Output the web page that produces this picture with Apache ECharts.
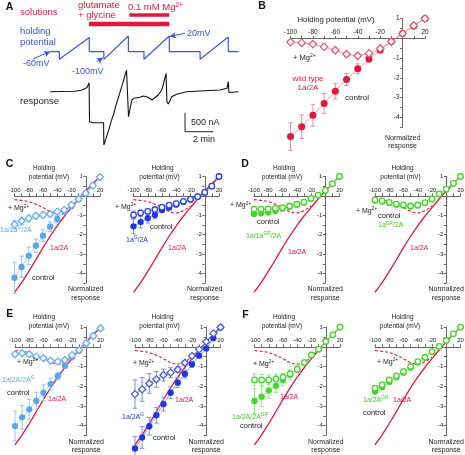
<!DOCTYPE html>
<html><head><meta charset="utf-8">
<script src="https://cdn.jsdelivr.net/npm/echarts@6/dist/echarts.min.js"></script>
<style>html,body{margin:0;padding:0;background:#fff}#c{width:465px;height:455px}</style>
</head><body><div id="c"></div>
<script>
// ================= DATA =================
// Panel A: time in min, holding potential in mV, response in nA
const vTime = [0,0.66,0.66,2.77,2.77,3.8,3.8,5.53,5.53,6.63,6.63,8.42,8.42,10.59,10.59,12.58,12.58,13.3];
const vHold = [-60,-60,-100,12,-60,-60,-100,20,-60,-60,-100,20,-60,-60,-100,15,-60,-60];
const rTime = [0,1.76,2.26,2.61,2.76,2.79,3.03,3.78,3.8,3.93,3.93,4.07,4.07,4.2,4.2,4.33,4.33,4.47,4.47,4.6,4.6,4.73,4.73,4.86,4.86,5.0,5.0,5.13,5.13,5.26,5.26,5.4,5.4,5.52,5.54,5.77,5.93,6.35,6.58,6.92,7.2,7.64,7.88,7.97,7.97,8.05,8.05,8.12,8.12,8.19,8.19,8.24,8.25,8.35,8.59,8.94,9.65,10.59,12.0,12.49,12.58,12.63,13.3];
const rCurrent = [0,11,45,110,237,-789,-815,-815,-1402,-1402,-1253,-1253,-1095,-1095,-937,-937,-762,-762,-613,-613,-438,-438,-263,-263,-114,-114,61,61,219,219,394,394,570,570,-657,-218,-174,-147,-113,-147,-218,-87,45,45,150,150,270,270,380,380,484,484,-263,-324,-131,-68,0,18,45,89,263,-21,0];
const solLanes = ['glu','mg'];
const gluTime = [2.75, 8.42];
const mgTime = [5.6, 8.42];
const sbTime = [9.53, 9.53, 11.53];
const sbCurrent = [-552, -1052, -1052];
const arrowFrom = [[-1.2,-98],[3.3,-113],[9.53,34]];
const arrowTo = [[0,-61],[3.72,-92],[8.47,18]];

// I-V panels: holding potential (mV) and normalized response
const mV = [-100,-90,-80,-70,-60,-50,-40,-30,-20,-10,0,10,20];
const wtControl    = [-4.97,-4.47,-3.89,-3.29,-2.67,-2.08,-1.54,-1.05,-0.6,-0.16,0.25,0.63,1.0];
const wtControlErr = [0.7,0.6,0.55,0.5,0.4,0.3,0.25,0.15,0.1,0.05,0.03,0.03,0];
const wtMg         = [-0.19,-0.23,-0.29,-0.43,-0.6,-0.8,-0.88,-0.76,-0.51,-0.16,0.25,0.65,1.0];
const wtMgErr      = [0.05,0.05,0.05,0.06,0.07,0.08,0.1,0.1,0.08,0.05,0.03,0.03,0];

const c1Control    = [-4.22,-3.66,-3.09,-2.57,-2.05,-1.59,-1.19,-0.81,-0.52,-0.17,0.14,0.53,0.97];
const c1ControlErr = [0.8,0.55,0.45,0.35,0.3,0.25,0.2,0.15,0.1,0.05,0.03,0.03,0];
const c1Mg         = [-1.47,-1.29,-1.16,-1.03,-0.98,-0.93,-0.81,-0.72,-0.47,-0.16,0.14,0.53,0.97];
const c1MgErr      = [0.2,0.2,0.18,0.15,0.15,0.12,0.1,0.08,0.05,0.03,0.02,0.02,0];

const c2Control    = [-1.57,-1.35,-1.15,-0.98,-0.73,-0.6,-0.45,-0.31,-0.19,-0.04,0.18,0.5,1.0];
const c2ControlErr = [0.38,0.3,0.25,0.2,0.12,0.1,0.08,0.05,0.04,0.03,0.02,0.02,0];
const c2Mg         = [-0.98,-0.88,-0.8,-0.7,-0.58,-0.48,-0.4,-0.28,-0.17,-0.04,0.18,0.5,1.0];
const c2MgErr      = [0.2,0.15,0.12,0.1,0.08,0.06,0.05,0.04,0.03,0.02,0.02,0.02,0];

const d1Control    = [-0.93,-0.9,-0.86,-0.78,-0.66,-0.56,-0.45,-0.34,-0.15,0.03,0.28,0.62,1.0];
const d1ControlErr = [0.08,0.08,0.07,0.06,0.05,0.05,0.04,0.03,0.03,0.02,0.02,0.02,0];
const d1Mg         = [-0.68,-0.68,-0.67,-0.64,-0.6,-0.52,-0.43,-0.32,-0.13,0.04,0.28,0.62,1.0];
const d1MgErr      = [0.06,0.06,0.05,0.05,0.05,0.04,0.04,0.03,0.03,0.02,0.02,0.02,0];

const d2Control    = [-0.24,-0.29,-0.36,-0.45,-0.5,-0.54,-0.49,-0.37,-0.17,0.09,0.34,0.65,1.0];
const d2ControlErr = [0.05,0.05,0.05,0.05,0.05,0.05,0.04,0.03,0.03,0.02,0.02,0.02,0];
const d2Mg         = [-0.21,-0.26,-0.33,-0.42,-0.47,-0.52,-0.47,-0.35,-0.16,0.1,0.35,0.65,1.0];
const d2MgErr      = [0.05,0.05,0.05,0.05,0.05,0.05,0.04,0.03,0.03,0.02,0.02,0.02,0];

const e1Control    = [-4.02,-3.58,-3.17,-2.75,-2.33,-1.89,-1.49,-0.97,-0.53,-0.2,0.18,0.55,0.94];
const e1ControlErr = [0.76,0.6,0.5,0.45,0.4,0.3,0.2,0.1,0.05,0.03,0.02,0.02,0];
const e1Mg         = [-0.38,-0.33,-0.38,-0.5,-0.58,-0.7,-0.75,-0.67,-0.42,-0.16,0.18,0.55,0.94];
const e1MgErr      = [0.08,0.08,0.08,0.08,0.08,0.08,0.08,0.06,0.05,0.03,0.02,0.02,0];

const e2Control    = [-5.16,-4.6,-4.03,-3.47,-2.91,-2.33,-1.82,-1.38,-0.89,-0.45,-0.08,0.43,0.99];
const e2ControlErr = [0.6,0.55,0.45,0.4,0.35,0.3,0.25,0.2,0.15,0.1,0.05,0.03,0];
const e2Mg         = [-2.4,-2.16,-1.86,-1.65,-1.43,-1.31,-1.15,-0.81,-0.47,-0.13,0.26,0.68,0.99];
const e2MgErr      = [0.72,0.6,0.5,0.4,0.3,0.25,0.15,0.1,0.05,0.03,0.02,0.02,0];

const f1Control    = [-2.75,-2.53,-2.22,-1.98,-1.68,-1.42,-1.14,-0.8,-0.41,-0.12,0.27,0.61,1.0];
const f1ControlErr = [0.64,0.5,0.4,0.35,0.3,0.25,0.2,0.1,0.05,0.03,0.02,0.02,0];
const f1Mg         = [-1.68,-1.68,-1.68,-1.63,-1.54,-1.37,-1.14,-0.8,-0.41,-0.12,0.27,0.61,1.0];
const f1MgErr      = [0.3,0.28,0.25,0.22,0.2,0.15,0.1,0.05,0.04,0.03,0.02,0.02,0];

const f2Control    = [-2.27,-2.05,-1.78,-1.55,-1.32,-1.06,-0.8,-0.56,-0.26,0.01,0.32,0.66,1.0];
const f2ControlErr = [0.1,0.08,0.07,0.06,0.05,0.05,0.04,0.03,0.03,0.02,0.02,0.02,0];
const f2Mg         = [-2.1,-1.93,-1.68,-1.47,-1.25,-1.0,-0.75,-0.53,-0.24,0.02,0.32,0.66,1.0];
const f2MgErr      = [0.08,0.07,0.06,0.05,0.05,0.04,0.04,0.03,0.03,0.02,0.02,0.02,0];

// ================= STYLE =================
const FONT = '"Liberation Sans", Arial, Helvetica, sans-serif';
const RED = '#e3173d', BLUE = '#3c55d8', LBLUE = '#5aa6ee', DBLUE = '#1d36e0', GREEN = '#3fd92a', GREENTXT = '#3fcf25';
const AX = '#666';
const Y_MIN = -4.5, Y_MAX = 1, X_MIN = -100, X_MAX = 20;

const pairs = (xs, ys) => xs.map((x, i) => [x, ys[i]]);

const grids = [], xAxes = [], yAxes = [], series = [];

// ---------- Panel A ----------
const aLeft = 7.5, aWidth = 233.8;
function hiddenX(gi){ return {gridIndex:gi, type:'value', min:-3, max:13.5, show:false}; }
grids.push({left:aLeft, top:10.5, width:aWidth, height:18, outerBoundsMode:'none'});
xAxes.push(hiddenX(0));
yAxes.push({gridIndex:0, type:'category', data:solLanes, show:false});
series.push({type:'line', xAxisIndex:0, yAxisIndex:0, data:gluTime.map(t=>[t,'glu']), symbol:'none', silent:true, lineStyle:{color:RED, width:4.5, cap:'butt'}});
series.push({type:'line', xAxisIndex:0, yAxisIndex:0, data:mgTime.map(t=>[t,'mg']), symbol:'none', silent:true, lineStyle:{color:RED, width:3.5, cap:'butt'}});
grids.push({left:aLeft, top:32.1, width:aWidth, height:31.1, outerBoundsMode:'none'});
xAxes.push(hiddenX(1));
yAxes.push({gridIndex:1, type:'value', min:-120, max:40, show:false});
series.push({type:'line', xAxisIndex:1, yAxisIndex:1, data:pairs(vTime, vHold), symbol:'none', silent:true, clip:false,
  lineStyle:{color:BLUE, width:1.2},
  markLine:{silent:true, symbol:['none','arrow'], symbolSize:[5,6], label:{show:false},
    lineStyle:{color:BLUE, width:1, type:'solid'},
    data: arrowFrom.map((f,i)=>[{coord:f},{coord:arrowTo[i]}])}});
grids.push({left:aLeft, top:65.1, width:aWidth, height:83.65, outerBoundsMode:'none'});
xAxes.push(hiddenX(2));
yAxes.push({gridIndex:2, type:'value', min:-1500, max:700, show:false});
series.push({type:'line', xAxisIndex:2, yAxisIndex:2, data:pairs(rTime, rCurrent), symbol:'none', silent:true, clip:false,
  lineStyle:{color:'#111', width:1.1}});
series.push({type:'line', xAxisIndex:2, yAxisIndex:2, data:pairs(sbTime, sbCurrent), symbol:'none', silent:true,
  lineStyle:{color:'#222', width:1}});

// ---------- I-V panels ----------
const panels = [
  {left:290.5, top:18.6, width:134.5, height:108.7, fs:6.5, ref:false,
   ctrl:wtControl, ctrlErr:wtControlErr, mg:wtMg, mgErr:wtMgErr,
   col:RED, line:'#ee7d90', err:'#ee8fa0', open:'#e25a72', openSym:'diamond', size:7, osize:7.5},
  {left:14.5, top:176.5, width:85.5, height:106.7, fs:6, ref:true,
   ctrl:c1Control, ctrlErr:c1ControlErr, mg:c1Mg, mgErr:c1MgErr,
   col:LBLUE, line:'#8fc3f2', err:'#92c5f2', open:'#6aaef0', openSym:'diamond', size:6.3, osize:7},
  {left:133.5, top:176.5, width:85.5, height:106.7, fs:6, ref:true,
   ctrl:c2Control, ctrlErr:c2ControlErr, mg:c2Mg, mgErr:c2MgErr,
   col:DBLUE, line:'#6f80e8', err:'#7d8de8', open:'#2a45e0', openSym:'circle', size:6.3, osize:5.5},
  {left:254, top:176.5, width:85.5, height:106.7, fs:6, ref:true,
   ctrl:d1Control, ctrlErr:d1ControlErr, mg:d1Mg, mgErr:d1MgErr,
   col:GREEN, line:'#8fe67d', err:'#9be88a', open:'#44d62c', openSym:'circle', size:6.3, osize:5.5},
  {left:375, top:176.5, width:85.5, height:106.7, fs:6, ref:true,
   ctrl:d2Control, ctrlErr:d2ControlErr, mg:d2Mg, mgErr:d2MgErr,
   col:GREEN, line:'#8fe67d', err:'#9be88a', open:'#44d62c', openSym:'circle', size:6.3, osize:5.5},
  {left:15, top:327.1, width:85.5, height:108.4, fs:6, ref:true,
   ctrl:e1Control, ctrlErr:e1ControlErr, mg:e1Mg, mgErr:e1MgErr,
   col:LBLUE, line:'#8fc3f2', err:'#92c5f2', open:'#6aaef0', openSym:'diamond', size:6.3, osize:7},
  {left:135, top:327.1, width:85.5, height:108.4, fs:6, ref:true,
   ctrl:e2Control, ctrlErr:e2ControlErr, mg:e2Mg, mgErr:e2MgErr,
   col:DBLUE, line:'#6f80e8', err:'#7d8de8', open:'#4a5ad8', openSym:'diamond', size:6.3, osize:7},
  {left:254.5, top:327.1, width:85.5, height:108.4, fs:6, ref:true,
   ctrl:f1Control, ctrlErr:f1ControlErr, mg:f1Mg, mgErr:f1MgErr,
   col:GREEN, line:'#8fe67d', err:'#9be88a', open:'#44d62c', openSym:'circle', size:6.3, osize:5.5},
  {left:375, top:327.1, width:85.5, height:108.4, fs:6, ref:true,
   ctrl:f2Control, ctrlErr:f2ControlErr, mg:f2Mg, mgErr:f2MgErr,
   col:GREEN, line:'#8fe67d', err:'#9be88a', open:'#44d62c', openSym:'circle', size:6.3, osize:5.5}
];

function errSeries(gi, vals, errs, color){
  const data = [];
  mV.forEach((x,j)=>{ if (errs[j] > 0.04) data.push([x, vals[j]-errs[j], vals[j]+errs[j]]); });
  return {type:'custom', xAxisIndex:gi, yAxisIndex:gi, data, encode:{x:0, y:[1,2]}, silent:true, z:3, clip:false,
    renderItem:(params, api)=>{
      const x = api.value(0);
      const a = api.coord([x, api.value(1)]), b = api.coord([x, api.value(2)]);
      const w = 2.3, st = {stroke:color, lineWidth:1};
      return {type:'group', children:[
        {type:'line', shape:{x1:a[0], y1:a[1], x2:b[0], y2:b[1]}, style:st},
        {type:'line', shape:{x1:a[0]-w, y1:a[1], x2:a[0]+w, y2:a[1]}, style:st},
        {type:'line', shape:{x1:b[0]-w, y1:b[1], x2:b[0]+w, y2:b[1]}, style:st}
      ]};
    }};
}

panels.forEach((p, k)=>{
  const gi = 3 + k;
  // axes cross at zero: shift each axis from the grid edge to the zero line of the other axis
  const xOff = -p.height * (Y_MAX - 0) / (Y_MAX - Y_MIN);
  const yOff = -p.width * (0 - X_MIN) / (X_MAX - X_MIN);
  grids.push({left:p.left, top:p.top, width:p.width, height:p.height, outerBoundsMode:'none'});
  xAxes.push({gridIndex:gi, type:'value', min:X_MIN, max:X_MAX, interval:10, position:'top', offset:xOff,
    axisLine:{onZero:false, lineStyle:{color:AX, width:1}},
    axisTick:{show:true, length:2.5, lineStyle:{color:AX}},
    axisLabel:{fontSize:p.fs, color:'#222', margin:3, fontFamily:FONT,
      formatter:v=> (v % 20 === 0 && v !== 0) ? String(v) : ''},
    splitLine:{show:false}});
  yAxes.push({gridIndex:gi, type:'value', min:Y_MIN, max:Y_MAX, interval:0.5, position:'left', offset:yOff,
    axisLine:{onZero:false, lineStyle:{color:AX, width:1}},
    axisTick:{show:true, length:2.5, lineStyle:{color:AX}},
    axisLabel:{fontSize:p.fs, color:'#222', margin:3, fontFamily:FONT,
      formatter:v=>{ const r = Math.round(v); return (Math.abs(v-r) < 1e-6 && r !== 0) ? String(r) : ''; }},
    splitLine:{show:false},
    name:'Normalized\nresponse', nameLocation:'start', nameGap: k===0 ? 6 : 2,
    nameTextStyle:{fontSize:7, color:'#222', lineHeight:8.7, fontFamily:FONT, align:'center', verticalAlign:'top'}});
  if (p.ref){
    series.push({type:'line', xAxisIndex:gi, yAxisIndex:gi, data:pairs(mV, wtControl), smooth:0.3, symbol:'none',
      silent:true, clip:false, z:2, lineStyle:{color:RED, width:1.3}});
    series.push({type:'line', xAxisIndex:gi, yAxisIndex:gi, data:pairs(mV.slice(0,9), wtMg.slice(0,9)), smooth:0.4, symbol:'none',
      silent:true, clip:false, z:2, lineStyle:{color:RED, width:1.1, type:[3,2]}});
  }
  series.push(errSeries(gi, p.ctrl, p.ctrlErr, p.err));
  series.push({type:'line', xAxisIndex:gi, yAxisIndex:gi, data:pairs(mV, p.ctrl), symbol:'circle', symbolSize:p.size,
    silent:true, clip:false, z:4, itemStyle:{color:p.col}, lineStyle:{color:p.line, width:0.8}});
  series.push(errSeries(gi, p.mg, p.mgErr, p.err));
  series.push({type:'line', xAxisIndex:gi, yAxisIndex:gi, data:pairs(mV, p.mg), symbol:p.openSym,
    symbolSize:p.osize,
    silent:true, clip:false, z:5, itemStyle:{color:'#fff', borderColor:p.open, borderWidth:1.3},
    lineStyle:{color:p.line, width:0.8}});
});

// ---------- Text ----------
function txt(x, y, text, o){
  o = o || {};
  const fill = o.fill || '#222', size = o.size || 7;
  return {type:'text', x, y, silent:true, z:100,
    style:{text, fill, fontSize:size, fontFamily:FONT, fontWeight:o.bold?'bold':'normal',
      align:o.align||'left', verticalAlign:'middle', textAlign:o.align||'left', textVerticalAlign:'middle',
      rich:{s:{fontSize:size*0.68, fill, fontFamily:FONT, padding:[0,0,size*0.55,0]}}}};
}
const hp = (cx1, cx2, y) => [txt(cx1, y, 'Holding', {size:6.5, align:'center'}), txt(cx2, y+8.8, 'potential (mV)', {size:6.5, align:'center'})];
const L = () => ({bold:true, size:10.5, align:'center', fill:'#111'});
const texts = [
  // A
  txt(9.5, 7, 'A', L()),
  txt(20, 12.7, 'solutions', {fill:RED, size:9.5}),
  txt(78, 5.5, 'glutamate', {fill:RED, size:9.5}),
  txt(78, 15.5, '+ glycine', {fill:RED, size:9.5}),
  txt(128, 7.5, '0.1 mM Mg{s|2+}', {fill:RED, size:9.5}),
  txt(20, 31.7, 'holding', {fill:BLUE, size:9.5}),
  txt(20, 42.7, 'potential', {fill:BLUE, size:9.5}),
  txt(23, 64, '-60mV', {fill:BLUE, size:9}),
  txt(72, 72, '-100mV', {fill:BLUE, size:9}),
  txt(187, 33.5, '20mV', {fill:BLUE, size:9}),
  txt(20, 101.7, 'response', {size:9.5}),
  txt(191, 123, '500 nA', {size:9}),
  txt(193, 139.5, '2 min', {size:9}),
  // B
  txt(262, 6.5, 'B', L()),
  txt(336, 20, 'Holding potential (mV)', {size:7.8, align:'center'}),
  txt(293, 57.7, '+ Mg{s|2+}', {size:7.5}),
  txt(308, 79, 'wild type', {fill:RED, size:8, align:'center'}),
  txt(308, 87.5, '1a/2A', {fill:RED, size:8, align:'center'}),
  txt(345, 97.3, 'control', {size:8}),
  // C1
  txt(9.5, 164, 'C', L()),
  ...hp(44, 49, 168.3),
  txt(8, 208.3, '+ Mg{s|2+}'),
  txt(0, 230, '1a/1a{s|G}/2A', {fill:LBLUE}),
  txt(50, 248.3, '1a/2A', {fill:RED}),
  txt(32, 278.3, 'control', {size:7.5}),
  // C2
  ...hp(162.5, 159.5, 168.3),
  txt(115, 207, '+ Mg{s|2+}'),
  txt(150, 226.7, 'control', {size:7.5}),
  txt(126, 240, '1a{s|G}/2A', {fill:DBLUE}),
  txt(168, 248.5, '1a/2A', {fill:RED}),
  // D1
  txt(245, 164, 'D', L()),
  ...hp(284, 282, 168.7),
  txt(230, 205.5, '+ Mg{s|2+}'),
  txt(257, 222.3, 'control', {size:7.5}),
  txt(246, 236, '1a/1a{s|GR}/2A', {fill:GREENTXT}),
  txt(288, 251.7, '1a/2A', {fill:RED}),
  // D2
  ...hp(402.5, 400.5, 168.7),
  txt(356, 211, '+ Mg{s|2+}'),
  txt(378, 216, 'control', {size:7.5}),
  txt(378, 225.5, '1a{s|GR}/2A', {fill:GREENTXT}),
  txt(410, 248.3, '1a/2A', {fill:RED}),
  // E1
  txt(9.7, 314, 'E', L()),
  ...hp(44, 49, 317.3),
  txt(17, 361.7, '+ Mg{s|2+}'),
  txt(2, 380, '1a/2A/2A{s|G}', {fill:LBLUE}),
  txt(7, 393.3, 'control', {size:7.5}),
  txt(48, 399, '1a/2A', {fill:RED}),
  // E2
  ...hp(162.5, 159.5, 317.3),
  txt(133, 363.3, '+ Mg{s|2+}'),
  txt(122, 417, '1a/2A{s|G}', {fill:DBLUE}),
  txt(153, 438.3, 'control', {size:7.5}),
  txt(175, 400, '1a/2A', {fill:RED}),
  // F1
  txt(245.5, 315, 'F', L()),
  ...hp(284, 282, 317.3),
  txt(253, 364, '+ Mg{s|2+}'),
  txt(232, 416.7, '1a/2A/2A{s|GR}', {fill:GREENTXT}),
  txt(240, 426.3, 'control', {size:7.5}),
  txt(280, 396.7, '1a/2A', {fill:RED}),
  // F2
  ...hp(402.5, 400, 317.3),
  txt(377, 361.7, '+ Mg{s|2+}'),
  txt(363, 400, '1a/2A{s|GR}', {fill:GREENTXT}),
  txt(363, 412.7, 'control', {size:7.5}),
  txt(393, 400, '1a/2A', {fill:RED})
];

const chart = echarts.init(document.getElementById('c'), null, {renderer:'canvas'});
chart.setOption({
  animation:false,
  backgroundColor:'#fff',
  textStyle:{fontFamily:FONT},
  grid:grids, xAxis:xAxes, yAxis:yAxes, series,
  graphic:{elements:texts}
});
</script>
</body></html>
